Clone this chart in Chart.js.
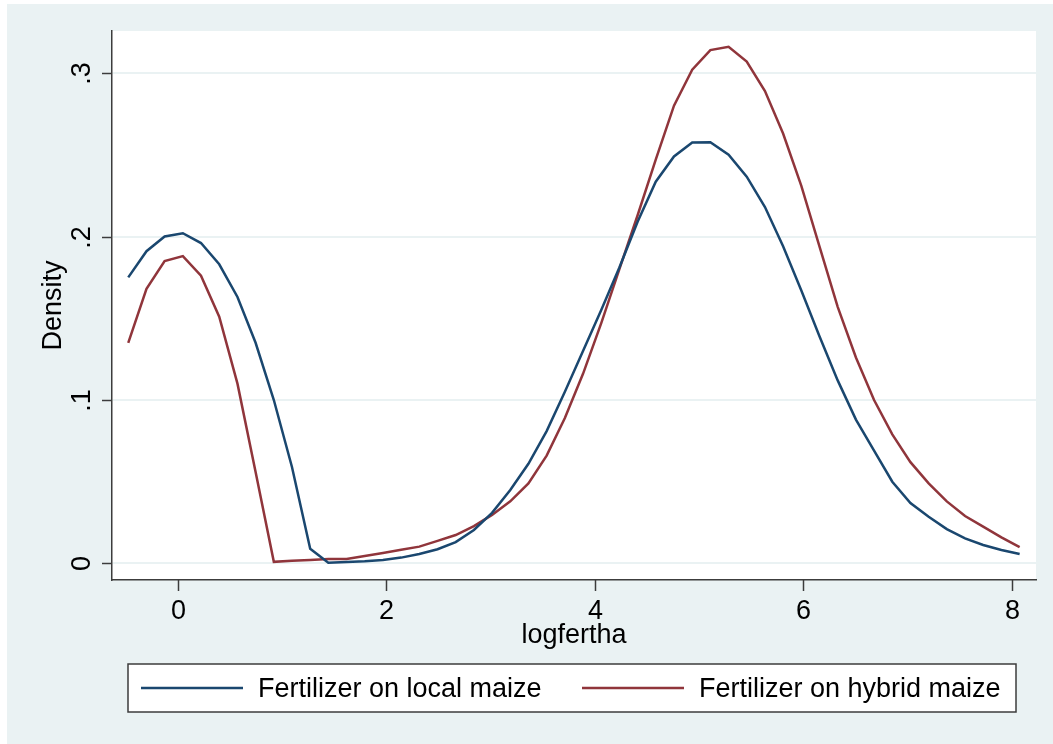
<!DOCTYPE html>
<html>
<head>
<meta charset="utf-8">
<script src="https://cdn.jsdelivr.net/npm/chart.js@4.4.1/dist/chart.umd.min.js"></script>
<style>
  html, body { margin: 0; padding: 0; background: #ffffff; }
  canvas { display: block; }
</style>
</head>
<body>
<canvas id="myChart" width="1053" height="744"></canvas>
<script>
// kernel density estimates, 50 evaluation points
const xPoints = [
  -0.477, -0.302, -0.128, 0.047, 0.221, 0.396, 0.571, 0.745, 0.920, 1.094,
  1.269, 1.443, 1.618, 1.792, 1.967, 2.142, 2.316, 2.491, 2.665, 2.840,
  3.014, 3.189, 3.363, 3.538, 3.713, 3.887, 4.062, 4.236, 4.411, 4.585,
  4.760, 4.935, 5.109, 5.284, 5.458, 5.633, 5.807, 5.982, 6.156, 6.331,
  6.506, 6.680, 6.855, 7.029, 7.204, 7.378, 7.553, 7.727, 7.902, 8.077
];
const localMaize = [
  0.175, 0.191, 0.200, 0.202, 0.196, 0.183, 0.163, 0.135, 0.100, 0.059,
  0.009, 0.0005, 0.0009, 0.0013, 0.0021, 0.0036, 0.0058, 0.0087, 0.0131, 0.0205,
  0.031, 0.045, 0.061, 0.081, 0.105, 0.130, 0.155, 0.181, 0.209, 0.2335,
  0.249, 0.2575, 0.2576, 0.250, 0.2366, 0.218, 0.194, 0.167, 0.139, 0.112,
  0.088, 0.069, 0.050, 0.037, 0.0286, 0.021, 0.0154, 0.0113, 0.0083, 0.0058
];
const hybridMaize = [
  0.135, 0.168, 0.185, 0.188, 0.176, 0.151, 0.110, 0.056, 0.001, 0.0017,
  0.0022, 0.0028, 0.0028, 0.0046, 0.0064, 0.0084, 0.0103, 0.0138, 0.0174, 0.0229,
  0.0297, 0.038, 0.049, 0.066, 0.089, 0.116, 0.147, 0.180, 0.213, 0.247,
  0.280, 0.302, 0.314, 0.316, 0.307, 0.289, 0.263, 0.231, 0.194, 0.157,
  0.126, 0.100, 0.079, 0.062, 0.049, 0.038, 0.029, 0.0225, 0.016, 0.010
];
const seriesNames = ["Fertilizer on local maize", "Fertilizer on hybrid maize"];
const seriesColors = ["#1a476f", "#90353b"];
const xTicks = [0, 2, 4, 6, 8];
const yTicks = [0, 0.1, 0.2, 0.3];
const yTickLabels = ["0", ".1", ".2", ".3"];
const xTitle = "logfertha";
const yTitle = "Density";

const FONT = "27px 'Liberation Sans', Arial, sans-serif";
const AXIS_COLOR = "#3c3c3c";
const BG_COLOR = "#eaf2f3";

function toPoints(ys) {
    return xPoints.map((x, i) => ({ x: x, y: ys[i] }));
}

// backgrounds: outer region, then white plot area
const backgroundPlugin = {
    id: "stataBackground",
    beforeDraw(chart) {
        const ctx = chart.ctx;
        const a = chart.chartArea;
        ctx.save();
        ctx.fillStyle = "#ffffff";
        ctx.fillRect(0, 0, chart.width, chart.height);
        ctx.fillStyle = BG_COLOR;
        ctx.fillRect(7, 4, chart.width - 7, chart.height - 4);
        ctx.fillStyle = "#ffffff";
        ctx.fillRect(a.left, a.top, a.right - a.left, a.bottom - a.top);
        ctx.restore();
    }
};

// ticks, labels, titles and the boxed legend
const axesPlugin = {
    id: "stataAxes",
    afterDraw(chart) {
        const ctx = chart.ctx;
        const a = chart.chartArea;
        const xs = chart.scales.x;
        const ys = chart.scales.y;
        ctx.save();
        ctx.strokeStyle = AXIS_COLOR;
        ctx.lineWidth = 1.5;
        ctx.fillStyle = "#000000";
        ctx.font = FONT;

        // y ticks + rotated labels
        yTicks.forEach((v, i) => {
            const py = Math.round(ys.getPixelForValue(v)) + 0.5;
            ctx.beginPath();
            ctx.moveTo(a.left - 10, py);
            ctx.lineTo(a.left, py);
            ctx.stroke();
            ctx.save();
            ctx.translate(90, py);
            ctx.rotate(-Math.PI / 2);
            ctx.textAlign = "center";
            ctx.textBaseline = "alphabetic";
            ctx.fillText(yTickLabels[i], 0, 0);
            ctx.restore();
        });

        // x ticks + labels
        xTicks.forEach(v => {
            const px = Math.round(xs.getPixelForValue(v)) + 0.5;
            ctx.beginPath();
            ctx.moveTo(px, a.bottom);
            ctx.lineTo(px, a.bottom + 11);
            ctx.stroke();
            ctx.textAlign = "center";
            ctx.textBaseline = "alphabetic";
            ctx.fillText(String(v), px, 619);
        });

        // axis titles
        ctx.textAlign = "center";
        ctx.fillText(xTitle, (a.left + a.right) / 2, 643);
        ctx.save();
        ctx.translate(61, (a.top + a.bottom) / 2);
        ctx.rotate(-Math.PI / 2);
        ctx.fillText(yTitle, 0, 0);
        ctx.restore();

        // legend
        ctx.fillStyle = "#ffffff";
        ctx.fillRect(128, 664, 888, 48);
        ctx.strokeRect(128, 664, 888, 48);
        const keyStarts = [141, 582];
        chart.data.datasets.forEach((ds, i) => {
            ctx.strokeStyle = ds.borderColor;
            ctx.lineWidth = 2.5;
            ctx.beginPath();
            ctx.moveTo(keyStarts[i], 688);
            ctx.lineTo(keyStarts[i] + 102, 688);
            ctx.stroke();
            ctx.fillStyle = "#000000";
            ctx.textAlign = "left";
            ctx.fillText(ds.label, keyStarts[i] + 117, 697);
        });
        ctx.restore();
    }
};

const chart = new Chart("myChart", {
    type: "line",
    data: {
        datasets: [
            {
                label: seriesNames[0],
                data: toPoints(localMaize),
                borderColor: seriesColors[0],
                borderWidth: 2.5,
                pointRadius: 0,
                tension: 0,
                fill: false
            },
            {
                label: seriesNames[1],
                data: toPoints(hybridMaize),
                borderColor: seriesColors[1],
                borderWidth: 2.5,
                pointRadius: 0,
                tension: 0,
                fill: false
            }
        ]
    },
    options: {
        responsive: false,
        animation: false,
        devicePixelRatio: 1,
        layout: { padding: { left: 0, top: 31, right: 17, bottom: 0 } },
        plugins: {
            legend: { display: false },
            tooltip: { enabled: false }
        },
        scales: {
            x: {
                type: "linear",
                min: -0.633,
                max: 8.234,
                afterFit: s => { s.height = 164; },
                afterBuildTicks: s => { s.ticks = xTicks.map(v => ({ value: v })); },
                ticks: { display: false },
                grid: { display: false, drawTicks: false },
                border: { display: true, color: AXIS_COLOR, width: 1.5 }
            },
            y: {
                type: "linear",
                min: -0.0101,
                max: 0.3257,
                afterFit: s => { s.width = 112; },
                afterBuildTicks: s => { s.ticks = yTicks.map(v => ({ value: v })); },
                ticks: { display: false },
                grid: { color: BG_COLOR, lineWidth: 2, drawTicks: false },
                border: { display: true, color: AXIS_COLOR, width: 1.5 }
            }
        }
    },
    plugins: [backgroundPlugin, axesPlugin]
});
</script>
</body>
</html>
